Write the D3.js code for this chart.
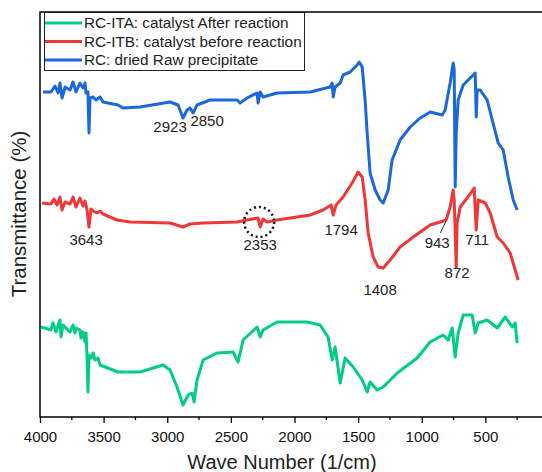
<!DOCTYPE html>
<html>
<head>
<meta charset="utf-8">
<script src="https://cdn.jsdelivr.net/npm/d3@7"></script>
<style>
body { margin: 0; background: #fff; }
text { font-family: "Liberation Sans", Arial, sans-serif; fill: #222; }
</style>
</head>
<body>
<div id="chart"></div>
<script>
// spectra as [wave number, transmittance (a.u.)]
var ritaData = [[3992,90],[3914,87],[3898,94],[3874,85],[3843,97],[3835,80],[3819,92],[3796,89],[3764,85],[3741,92],[3725,84],[3717,89],[3686,87],[3678,79],[3662,85],[3646,75],[3638,84],[3630,60],[3623,25],[3615,62],[3599,59],[3583,64],[3568,57],[3544,59],[3528,52],[3387,45],[3214,45],[3033,52],[2978,47],[2923,30],[2876,12],[2836,22],[2805,24],[2789,15],[2766,37],[2718,57],[2608,64],[2483,65],[2443,55],[2404,77],[2294,90],[2270,80],[2247,87],[2137,95],[1979,95],[1901,95],[1799,92],[1736,80],[1704,57],[1681,70],[1641,34],[1602,59],[1539,50],[1468,37],[1429,25],[1406,35],[1351,27],[1303,30],[1193,44],[1036,59],[934,75],[832,82],[792,77],[761,89],[737,60],[714,84],[674,102],[604,102],[580,84],[556,94],[486,97],[407,89],[344,100],[289,90],[266,94],[250,74]];

var ritbData = [[3984,214],[3914,213],[3890,218],[3866,212],[3843,220],[3827,207],[3803,215],[3764,213],[3741,220],[3717,210],[3686,219],[3662,211],[3646,216],[3630,207],[3615,190],[3599,208],[3583,206],[3552,204],[3528,206],[3505,203],[3450,200],[3395,197],[3292,195],[2978,194],[2876,190],[2821,193],[2718,194],[2451,195],[2373,197],[2286,199],[2270,190],[2247,198],[2215,195],[2137,197],[1877,202],[1775,207],[1712,212],[1696,202],[1673,212],[1618,220],[1547,234],[1500,245],[1468,240],[1445,217],[1421,184],[1382,160],[1343,150],[1303,149],[1248,157],[1170,170],[1067,180],[957,190],[934,192],[855,195],[808,197],[777,210],[753,227],[745,217],[729,150],[722,194],[698,210],[643,219],[588,229],[572,187],[556,217],[501,214],[462,204],[407,180],[360,174],[305,164],[266,147],[242,137]];

var rcData = [[3976,325],[3914,325],[3882,331],[3858,324],[3843,334],[3827,319],[3803,330],[3764,327],[3741,335],[3717,325],[3686,334],[3662,329],[3646,334],[3638,324],[3623,325],[3615,284],[3607,319],[3583,320],[3560,317],[3528,320],[3505,315],[3387,312],[3347,309],[3214,310],[2978,315],[2915,312],[2876,299],[2844,307],[2821,309],[2797,304],[2766,312],[2663,317],[2451,317],[2428,314],[2373,319],[2294,324],[2286,314],[2270,325],[2247,320],[2137,324],[1877,325],[1720,330],[1704,334],[1696,320],[1681,330],[1641,334],[1618,342],[1563,345],[1508,352],[1492,355],[1468,350],[1445,317],[1429,284],[1406,244],[1366,227],[1327,217],[1303,214],[1264,227],[1233,257],[1170,277],[1091,290],[1012,299],[934,305],[839,302],[816,307],[777,334],[753,354],[745,347],[737,230],[729,284],[714,317],[674,332],[619,339],[580,344],[572,300],[564,327],[541,327],[486,317],[446,297],[399,274],[360,267],[321,240],[281,217],[250,207]];

var seriesNames = ["RC-ITA: catalyst After reaction", "RC-ITB: catalyst before reaction", "RC: dried Raw precipitate"];
var seriesColors = ["#00cc8a", "#ee3838", "#1a68dc"];

// peak labels: [text, wave number, transmittance]
var peakLabels = [["2923",2978,290],["2850",2687,296],["3643",3638,177],["2353",2270,172],["1794",1634,187],["1408",1327,127],["943",879,174],["872",722,144],["711",564,177]];
var xTicks = [4000, 3500, 3000, 2500, 2000, 1500, 1000, 500];

var margin = {top: 12, left: 40},
    width = 509,
    height = 405;

var svg = d3.select("#chart").append("svg")
    .attr("width", 542)
    .attr("height", 472);

var x = d3.scaleLinear().domain([4000, 0]).range([margin.left, margin.left + width]);
var y = d3.scaleLinear().domain([0, 405]).range([margin.top + height, margin.top]);

// frame
svg.append("rect")
    .attr("x", margin.left).attr("y", margin.top)
    .attr("width", width).attr("height", height)
    .attr("fill", "none").attr("stroke", "#000").attr("stroke-width", 1.5);

// x axis, major + minor ticks
var xAxis = d3.axisBottom(x).tickValues(xTicks).tickSize(6).tickFormat(d3.format("d"));
var gx = svg.append("g")
    .attr("transform", "translate(0," + (margin.top + height) + ")")
    .call(xAxis);
gx.select(".domain").remove();
gx.selectAll("line").attr("stroke", "#000").attr("stroke-width", 1.3);
gx.selectAll("text").attr("font-size", 15).attr("dy", "1.05em").style("fill", "#111");

var minor = d3.range(3750, 0, -500);
svg.append("g").selectAll("line").data(minor).join("line")
    .attr("x1", function(d) { return x(d); }).attr("x2", function(d) { return x(d); })
    .attr("y1", margin.top + height).attr("y2", margin.top + height + 3)
    .attr("stroke", "#000").attr("stroke-width", 1.3);

svg.append("text")
    .attr("x", 282).attr("y", 469)
    .attr("text-anchor", "middle").attr("font-size", 20)
    .text("Wave Number (1/cm)");

svg.append("text")
    .attr("transform", "translate(26,214) rotate(-90)")
    .attr("text-anchor", "middle").attr("font-size", 20.5)
    .text("Transmittance (%)");

var line = d3.line()
    .x(function(d) { return x(d[0]); })
    .y(function(d) { return y(d[1]); });

[ritaData, ritbData, rcData].forEach(function(data, i) {
    svg.append("path")
        .attr("d", line(data))
        .attr("fill", "none")
        .attr("stroke", seriesColors[i])
        .attr("stroke-width", 3)
        .attr("stroke-linejoin", "round");
});

// peak labels
svg.append("g").selectAll("text").data(peakLabels).join("text")
    .attr("x", function(d) { return x(d[1]); })
    .attr("y", function(d) { return y(d[2]); })
    .attr("dy", "0.35em")
    .attr("text-anchor", "middle")
    .attr("font-size", 15)
    .text(function(d) { return d[0]; });

// leader line for 943
svg.append("line")
    .attr("x1", x(855)).attr("y1", y(184))
    .attr("x2", x(808)).attr("y2", y(196))
    .attr("stroke", "#333").attr("stroke-width", 1);

// dotted circle round 2353
svg.append("circle")
    .attr("cx", x(2278)).attr("cy", y(195)).attr("r", 15)
    .attr("fill", "none").attr("stroke", "#111")
    .attr("stroke-width", 2.5).attr("stroke-dasharray", "2,3");

// legend
var legend = svg.append("g");
legend.append("rect")
    .attr("x", 44.5).attr("y", 12.5).attr("width", 260).attr("height", 58)
    .attr("fill", "#fff").attr("stroke", "#222").attr("stroke-width", 1);
seriesNames.forEach(function(name, i) {
    var ly = 23 + i * 18.5;
    legend.append("line")
        .attr("x1", 45).attr("x2", 82).attr("y1", ly).attr("y2", ly)
        .attr("stroke", seriesColors[i]).attr("stroke-width", 3);
    legend.append("text")
        .attr("x", 84).attr("y", ly).attr("dy", "0.35em")
        .attr("font-size", 15.3)
        .text(name);
});
</script>
</body>
</html>
